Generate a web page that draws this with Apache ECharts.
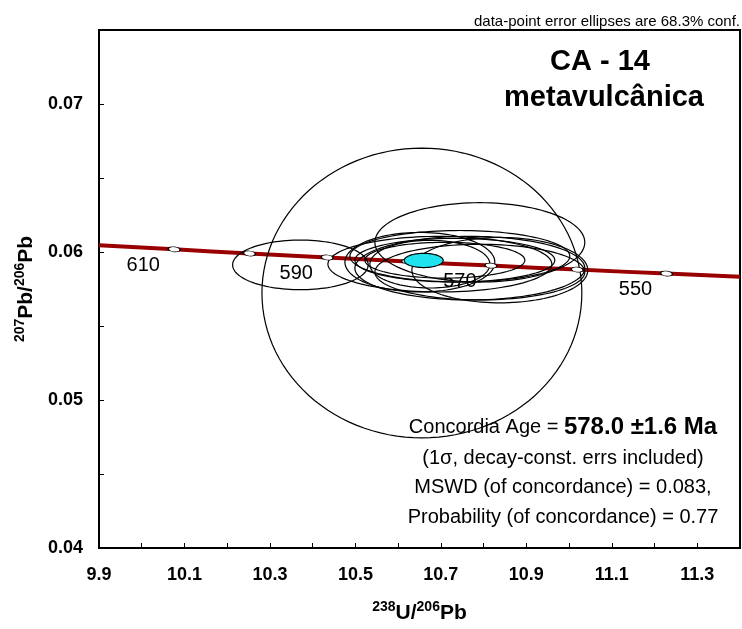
<!DOCTYPE html>
<html><head><meta charset="utf-8">
<script src="https://cdn.jsdelivr.net/npm/echarts@6/dist/echarts.min.js"></script>
<style>html,body{margin:0;padding:0;background:#fff}#c{width:742px;height:629px}</style>
</head><body><div id="c"></div>
<script>
// Concordia curve points
const concordiaX = [9.90, 10.076, 10.252, 10.434, 10.622, 10.817, 11.019, 11.228, 11.40];
const concordiaY = [0.06046, 0.06018, 0.05990, 0.05963, 0.05935, 0.05908, 0.05881, 0.05854, 0.05832];
// Age markers on the concordia
const markerAges = [610, 600, 590, 580, 570, 560, 550];
const markerX = [10.076, 10.252, 10.434, 10.622, 10.817, 11.019, 11.228];
const markerY = [0.06018, 0.05990, 0.05963, 0.05935, 0.05908, 0.05881, 0.05854];
const labeledAges = [610, 590, 570, 550];
// Data-point error ellipses: centre x, centre y, half-width x, half-height y, tilt (deg)
const ellCx = [10.6556, 10.3713, 10.7912, 10.6977, 10.7327, 10.6509, 10.7678, 10.838, 10.7094, 10.6743, 10.7444, 10.7912];
const ellCy = [0.05723, 0.05913, 0.06065, 0.059177, 0.059445, 0.059311, 0.058909, 0.058774, 0.059445, 0.059177, 0.059713, 0.05864];
const ellRx = [0.3743, 0.1586, 0.2456, 0.262, 0.2339, 0.1754, 0.269, 0.2058, 0.1871, 0.1404, 0.2573, 0.2456];
const ellRy = [0.00979, 0.001676, 0.00268, 0.00188, 0.001475, 0.00201, 0.00215, 0.00221, 0.00121, 0.00161, 0.00174, 0.00188];
const ellTilt = [0, 0, 0, 0, 0, 0, 0, 0, 0, 0, 0, 0];
// Concordia age ellipse
const ageCx = [10.6598], ageCy = [0.05943], ageRx = [0.0456], ageRy = [0.00048], ageTilt = [0];
// Axis ticks
const xMin = 9.9, xMax = 11.4, xStep = 0.1;
const yMin = 0.04, yMax = 0.075, yStep = 0.005;

const FONT = "'Liberation Sans', Arial, sans-serif";
const chart = echarts.init(document.getElementById('c'));

function renderEllipse(params, api) {
  const c = api.coord([api.value(0), api.value(1)]);
  const s = api.size([api.value(2), api.value(3)]);
  const rx = s[0], ry = s[1];
  const a = api.value(4) * Math.PI / 180;
  const pts = [];
  const n = 120;
  for (let i = 0; i < n; i++) {
    const t = i / n * 2 * Math.PI;
    const ex = rx * Math.cos(t), ey = ry * Math.sin(t);
    pts.push([c[0] + ex * Math.cos(a) - ey * Math.sin(a), c[1] - (ex * Math.sin(a) + ey * Math.cos(a))]);
  }
  return {
    type: 'polygon', shape: { points: pts },
    style: { fill: params.seriesName === 'age' ? '#1ee3ef' : 'none', stroke: '#000', lineWidth: 1.2 }
  };
}

const ellData = ellCx.map((v, i) => [v, ellCy[i], ellRx[i], ellRy[i], ellTilt[i]]);
const ageData = ageCx.map((v, i) => [v, ageCy[i], ageRx[i], ageRy[i], ageTilt[i]]);

const richAxis = {
  sup: { fontSize: 14, fontWeight: 'bold', fontFamily: FONT, color: '#000', verticalAlign: 'top', lineHeight: 24 },
  b: { fontSize: 21, fontWeight: 'bold', fontFamily: FONT, color: '#000', verticalAlign: 'bottom', lineHeight: 24 }
};

chart.setOption({
  animation: false,
  backgroundColor: '#fff',
  grid: { left: 99, top: 30, width: 641, height: 522, show: true, borderColor: '#000', borderWidth: 2 },
  xAxis: {
    type: 'value', min: xMin, max: xMax, interval: xStep,
    axisLine: { show: true, lineStyle: { color: '#000', width: 2 } },
    axisTick: { show: true, inside: true, length: 5, lineStyle: { color: '#000', width: 1 } },
    splitLine: { show: false },
    axisLabel: {
      margin: 18, fontSize: 18, fontWeight: 'bold', fontFamily: FONT, color: '#000', showMaxLabel: false,
      formatter: v => (Math.round(v * 10) % 2 === 1 ? v.toFixed(1) : '')
    },
    name: '{sup|238}{b|U/}{sup|206}{b|Pb}', nameLocation: 'middle', nameGap: 52,
    nameTextStyle: { rich: richAxis }
  },
  yAxis: {
    type: 'value', min: yMin, max: yMax, interval: yStep,
    axisLine: { show: true, lineStyle: { color: '#000', width: 2 } },
    axisTick: { show: true, inside: true, length: 5, lineStyle: { color: '#000', width: 1 } },
    splitLine: { show: false },
    axisLabel: {
      margin: 16, fontSize: 18, fontWeight: 'bold', fontFamily: FONT, color: '#000',
      formatter: v => (Math.round(v * 1000) % 10 === 0 ? v.toFixed(2) : '')
    },
    name: '{sup|207}{b|Pb/}{sup|206}{b|Pb}', nameLocation: 'middle', nameGap: 62, nameRotate: 90,
    nameTextStyle: { rich: richAxis }
  },
  series: [
    {
      name: 'concordia', type: 'line', data: concordiaX.map((v, i) => [v, concordiaY[i]]),
      showSymbol: false, smooth: true, lineStyle: { color: '#990000', width: 4 }, z: 1, silent: true
    },
    {
      name: 'labels', type: 'scatter', data: markerX.map((v, i) => [v, markerY[i], markerAges[i]]),
      symbolSize: 0, z: 1, silent: true, itemStyle: { opacity: 1 },
      label: {
        show: true, position: 'inside', offset: [-31, 16], fontSize: 20, fontFamily: FONT, color: '#000',
        textBorderWidth: 0, opacity: 1,
        formatter: p => (labeledAges.indexOf(p.value[2]) >= 0 ? String(p.value[2]) : '')
      }
    },
    {
      name: 'ellipses', type: 'custom', renderItem: renderEllipse, data: ellData, z: 2,
      encode: { x: 0, y: 1 }, clip: true, silent: true
    },
    {
      name: 'markers', type: 'scatter', data: markerX.map((v, i) => [v, markerY[i], markerAges[i]]),
      symbol: 'circle', symbolSize: [12, 5], symbolRotate: -6, silent: true,
      itemStyle: { color: '#fff', borderColor: '#000', borderWidth: 1, opacity: 1 }, z: 3
    },
    {
      name: 'age', type: 'custom', renderItem: renderEllipse, data: ageData, z: 4,
      encode: { x: 0, y: 1 }, silent: true
    }
  ],
  graphic: [
    { type: 'text', z: 10, style: { text: 'data-point error ellipses are 68.3% conf.', x: 740, y: 22, align: 'right', verticalAlign: 'middle', font: '15px ' + FONT, fill: '#000' } },
    { type: 'text', z: 10, style: { text: 'CA - 14', x: 600, y: 62, align: 'center', verticalAlign: 'middle', font: 'bold 29px ' + FONT, fill: '#000' } },
    { type: 'text', z: 10, style: { text: 'metavulcânica', x: 604, y: 98, align: 'center', verticalAlign: 'middle', font: 'bold 29px ' + FONT, fill: '#000' } },
    { type: 'text', z: 10, style: {
        text: '{n|Concordia Age = }{bb|578.0 ±1.6 Ma}', x: 563, y: 427, align: 'center', verticalAlign: 'middle',
        rich: { n: { fontSize: 20, fontFamily: FONT, fill: '#000' }, bb: { fontSize: 24, fontWeight: 'bold', fontFamily: FONT, fill: '#000' } }
      } },
    { type: 'text', z: 10, style: { text: '(1σ, decay-const. errs included)', x: 563, y: 458, align: 'center', verticalAlign: 'middle', font: '20px ' + FONT, fill: '#000' } },
    { type: 'text', z: 10, style: { text: 'MSWD (of concordance) = 0.083,', x: 563, y: 487, align: 'center', verticalAlign: 'middle', font: '20px ' + FONT, fill: '#000' } },
    { type: 'text', z: 10, style: { text: 'Probability (of concordance) = 0.77', x: 563, y: 517, align: 'center', verticalAlign: 'middle', font: '20px ' + FONT, fill: '#000' } }
  ]
});
</script></body></html>
